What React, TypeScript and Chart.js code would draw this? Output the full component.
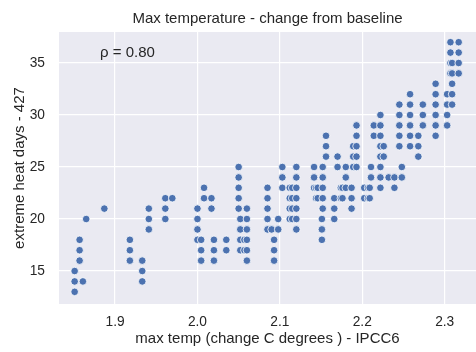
import React, { useEffect, useRef } from "react";
import { Chart, registerables } from "chart.js";

Chart.register(...registerables);

// Max temperature change (x) of each column of points
const maxTempChange = [
  1.851, 1.857, 1.861, 1.865, 1.887, 1.918, 1.933, 1.941, 1.961, 1.9695,
  2.0, 2.0045, 2.008, 2.017, 2.02, 2.035, 2.05, 2.052, 2.057, 2.06,
  2.085, 2.09, 2.093, 2.098, 2.103, 2.112, 2.115, 2.12, 2.1415, 2.144,
  2.146, 2.151, 2.152, 2.156, 2.166, 2.17, 2.174, 2.176, 2.18, 2.187,
  2.189, 2.193, 2.2024, 2.207, 2.209, 2.2106, 2.214, 2.222, 2.226, 2.232,
  2.239, 2.245, 2.248, 2.258, 2.268, 2.2735, 2.289, 2.303, 2.307, 2.309,
  2.317,
];

// Extreme heat days observed at each of those x values
const extremeHeatDays = [
  [13, 14, 15], [16, 17, 18], [14], [20], [21], [16, 17, 18], [14, 15, 16], [19, 20, 21], [20, 21, 22], [22],
  [18, 19, 20, 21], [16, 17, 18], [22, 23], [21, 22], [16, 17, 18], [17, 18], [21, 22, 23, 24, 25], [17, 18, 19, 20], [17, 18], [16, 17, 18, 19, 20, 21],
  [19, 20, 21, 22, 23], [19], [16, 17, 18], [19, 20], [23, 24, 25], [20, 21, 22, 23], [20, 21, 22, 23], [19, 20, 21, 22, 23, 24, 25], [23, 24, 25], [22, 23],
  [22, 23], [18, 19, 20], [21, 22, 23, 24, 25], [26, 27, 28], [20, 21, 22], [25, 26], [22, 23], [22, 23], [23, 24, 25], [21, 22, 23],
  [25, 26, 27], [25, 26, 27, 28, 29], [22, 23], [22, 23], [22, 23], [24, 25], [28, 29], [23, 24, 25, 26, 27, 28, 29, 30], [26, 27], [24],
  [23, 24], [27, 28, 29, 30, 31], [24, 25], [27, 28, 29, 30, 31, 32], [26, 27, 28], [29, 30, 31], [28, 29, 30, 31, 32, 33], [29, 30, 31, 32], [34, 35, 36, 37], [31, 32, 33, 34, 35],
  [34, 35, 36, 37],
];

const xTicks = [1.9, 2.0, 2.1, 2.2, 2.3];
const yTicks = [15, 20, 25, 30, 35];
const xRange = [1.832, 2.338];
const yRange = [11.83, 37.98];

const titleText = "Max temperature - change from baseline";
const annotationText = "ρ = 0.80";
const xLabel = "max temp (change C degrees ) - IPCC6";
const yLabel = "extreme heat days - 427";

const FONT = "'Liberation Sans', Arial, Helvetica, sans-serif";
const TEXT = "#262626";

export default function App() {
  const ref = useRef<HTMLCanvasElement | null>(null);

  useEffect(() => {
    if (!ref.current) return;
    const points: { x: number; y: number }[] = [];
    maxTempChange.forEach((x, i) => {
      extremeHeatDays[i].forEach((y) => points.push({ x, y }));
    });

    const decor = {
      id: "decor",
      beforeDraw(chart: any) {
        const { ctx, chartArea } = chart;
        ctx.save();
        ctx.fillStyle = "#ffffff";
        ctx.fillRect(0, 0, chart.width, chart.height);
        ctx.fillStyle = "#EAEAF2";
        ctx.fillRect(chartArea.left, chartArea.top, chartArea.right - chartArea.left, chartArea.bottom - chartArea.top);
        ctx.restore();
      },
      afterDraw(chart: any) {
        const { ctx, chartArea } = chart;
        ctx.save();
        ctx.fillStyle = TEXT;
        ctx.font = `15px ${FONT}`;
        ctx.textAlign = "center";
        ctx.textBaseline = "alphabetic";
        ctx.fillText(titleText, (chartArea.left + chartArea.right) / 2, 23);
        ctx.textAlign = "left";
        ctx.fillText(annotationText, chartArea.left + 41, chartArea.top + 25);
        ctx.restore();
      },
    };

    const chart = new Chart(ref.current, {
      type: "scatter",
      data: {
        datasets: [
          {
            data: points,
            backgroundColor: "#4C72B0",
            borderColor: "#ffffff",
            borderWidth: 0.8,
            pointRadius: 3.8,
            pointHoverRadius: 3.8,
          },
        ],
      },
      options: {
        responsive: false,
        animation: false,
        events: [],
        layout: { autoPadding: false, padding: { top: 32, left: 0, right: 0, bottom: 0 } },
        plugins: {
          legend: { display: false },
          tooltip: { enabled: false },
          title: { display: false },
        },
        scales: {
          x: {
            type: "linear",
            min: xRange[0],
            max: xRange[1],
            afterBuildTicks: (s: any) => {
              s.ticks = xTicks.map((v) => ({ value: v }));
            },
            afterFit: (s: any) => {
              s.height = 48;
              s.paddingLeft = 0;
              s.paddingRight = 0;
            },
            ticks: {
              color: TEXT,
              font: { family: FONT, size: 13.75 },
              padding: 10,
              callback: (v: any) => Number(v).toFixed(1),
            },
            grid: { color: "#ffffff", lineWidth: 1.2, drawTicks: false },
            border: { display: false },
            title: {
              display: true,
              text: xLabel,
              color: TEXT,
              font: { family: FONT, size: 15 },
              padding: { top: 0, bottom: 4 },
            },
          },
          y: {
            type: "linear",
            min: yRange[0],
            max: yRange[1],
            afterBuildTicks: (s: any) => {
              s.ticks = yTicks.map((v) => ({ value: v }));
            },
            afterFit: (s: any) => {
              s.width = 59;
              s.paddingTop = 0;
              s.paddingBottom = 0;
            },
            ticks: {
              color: TEXT,
              font: { family: FONT, size: 13.75 },
              padding: 14,
              callback: (v: any) => String(v),
            },
            grid: { color: "#ffffff", lineWidth: 1.2, drawTicks: false },
            border: { display: false },
            title: {
              display: true,
              text: yLabel,
              color: TEXT,
              font: { family: FONT, size: 15 },
              padding: { top: 11, bottom: 0 },
            },
          },
        },
      },
      plugins: [decor],
    });
    return () => chart.destroy();
  }, []);

  return (
    <div style={{ position: "fixed", left: 0, top: 0, width: 476, height: 352, background: "#fff" }}>
      <canvas ref={ref} width={476} height={352} style={{ width: 476, height: 352, display: "block" }} />
    </div>
  );
}
